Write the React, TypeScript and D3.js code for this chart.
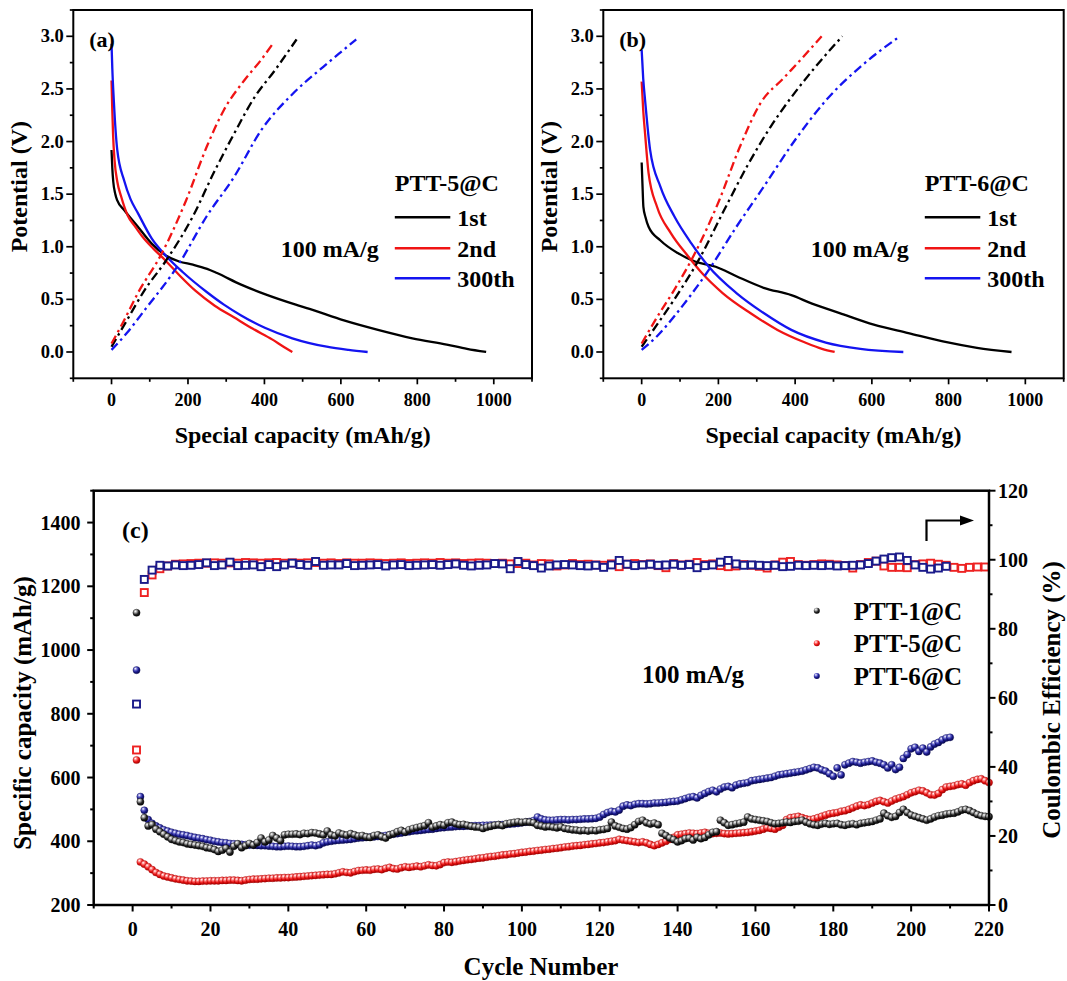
import React from "react";
import * as d3 from "d3";

const FONT = "'Liberation Serif', 'Times New Roman', Times, serif";
type Pt = [number, number];

// ---------- Panel (a): PTT-5@C, capacity (mAh/g) vs potential (V) ----------
const a1stDischarge: Pt[] = [[0,1.92],[2,1.75],[4.5,1.62],[10,1.5],[15,1.44],[33,1.35],[69,1.19],[105,1.03],[141,0.92],[177,0.86],[213,0.83],[250,0.79],[276,0.75],[339,0.64],[401,0.55],[482,0.45],[518,0.41],[608,0.3],[697,0.21],[787,0.13],[877,0.07],[930,0.03],[980,0.0]];
const a2ndDischarge: Pt[] = [[0,2.58],[2,2.3],[4,2.07],[8,1.82],[15,1.62],[25,1.48],[42,1.3],[60,1.2],[80,1.1],[110,0.98],[141,0.87],[180,0.72],[220,0.58],[270,0.44],[320,0.33],[370,0.22],[420,0.12],[450,0.05],[473,0.0]];
const a300thDischarge: Pt[] = [[0,2.93],[2,2.7],[6,2.39],[15,1.92],[33,1.63],[50,1.45],[69,1.32],[105,1.08],[141,0.92],[186,0.76],[249,0.57],[294,0.45],[338,0.35],[401,0.23],[473,0.13],[563,0.05],[620,0.02],[670,0.0]];
const a1stCharge: Pt[] = [[0,0.05],[40,0.3],[87,0.59],[141,0.86],[213,1.29],[267,1.7],[320,2.07],[374,2.42],[428,2.68],[484,2.97]];
const a2ndCharge: Pt[] = [[0,0.08],[30,0.28],[69,0.56],[132,0.94],[195,1.44],[249,1.95],[294,2.3],[347,2.58],[390,2.77],[424,2.94]];
const a300thCharge: Pt[] = [[0,0.02],[40,0.18],[87,0.4],[177,0.84],[249,1.29],[320,1.66],[392,2.11],[473,2.45],[554,2.71],[600,2.85],[640,2.97]];

// ---------- Panel (b): PTT-6@C ----------
const b1stDischarge: Pt[] = [[0,1.8],[2,1.6],[4.5,1.38],[10,1.28],[18,1.19],[49,1.06],[94,0.94],[139,0.86],[193,0.81],[247,0.72],[318,0.61],[390,0.54],[444,0.46],[516,0.37],[605,0.26],[695,0.18],[785,0.1],[874,0.04],[964,0.0]];
const b2ndDischarge: Pt[] = [[0,2.57],[4,2.3],[9,2.07],[18,1.7],[40,1.38],[76,1.13],[121,0.91],[157,0.75],[211,0.56],[283,0.37],[354,0.21],[426,0.09],[470,0.03],[503,0.0]];
const b300thDischarge: Pt[] = [[0,2.87],[4,2.6],[9,2.39],[22,1.92],[49,1.57],[85,1.29],[130,1.03],[175,0.81],[247,0.56],[318,0.37],[390,0.21],[480,0.09],[570,0.03],[682,0.0]];
const b1stCharge: Pt[] = [[0,0.05],[40,0.26],[85,0.5],[148,0.87],[211,1.32],[274,1.76],[336,2.14],[390,2.42],[453,2.71],[523,3.0]];
const b2ndCharge: Pt[] = [[0,0.08],[40,0.33],[85,0.59],[139,0.94],[202,1.44],[256,1.95],[309,2.36],[372,2.61],[420,2.8],[469,3.0]];
const b300thCharge: Pt[] = [[0,0.02],[40,0.15],[85,0.34],[175,0.78],[247,1.19],[318,1.57],[399,2.01],[480,2.39],[570,2.71],[673,3.0]];

const capTicks = [0, 200, 400, 600, 800, 1000];
const potTicks = [0, 0.5, 1.0, 1.5, 2.0, 2.5, 3.0];
const legendLabels = ["1st", "2nd", "300th"];

// ---------- Panel (c): cycling ----------
const ptt1Capacity = [
1117,524,474,448,452,438,430,422,414,406,
402,398,396,392,390,388,386,384,380,378,
374,368,372,378,366,384,392,380,386,393,
388,396,410,398,404,418,410,402,420,422,
422,423,421,425,424,427,426,423,420,432,
420,417,426,422,419,424,420,416,418,414,
412,418,420,414,410,420,424,430,434,429,
436,440,443,446,449,458,444,448,452,450,
458,460,455,452,453,450,447,445,444,440,
444,447,450,452,449,455,457,459,461,459,
461,460,458,450,448,445,446,444,442,445,
440,438,436,435,433,434,432,434,433,436,
437,440,460,448,444,440,438,443,452,462,
466,458,454,457,452,425,418,410,405,398,
402,408,410,404,412,408,412,420,428,430,
466,458,450,452,455,457,460,476,470,468,
466,464,462,458,455,456,458,460,459,462,
463,466,460,455,452,450,454,456,453,455,
456,452,450,453,455,452,456,458,460,462,
466,470,488,480,475,478,490,500,490,482,
478,474,470,466,470,476,480,482,485,487,
488,492,498,500,496,490,484,480,478,477];

const ptt5Capacity = [
655,335,328,320,311,302,296,291,288,285,
282,280,278,276,275,274,274,275,275,276,
276,276,277,277,278,278,277,276,278,280,
281,281,282,283,284,284,285,285,286,286,
287,288,289,290,291,292,293,294,295,296,
296,298,301,304,302,301,305,308,309,310,
309,312,313,311,315,318,314,313,317,320,
318,320,322,320,323,326,324,323,327,333,
335,334,336,338,340,342,343,345,347,348,
350,352,353,355,357,358,360,361,363,365,
366,368,369,371,372,374,375,377,378,380,
382,383,385,386,387,389,390,392,393,395,
396,398,400,402,406,404,402,400,398,396,
398,395,390,386,390,395,400,406,412,420,
422,424,426,425,424,426,428,425,424,425,
426,424,423,424,425,426,427,428,430,432,
434,438,442,440,438,444,450,468,474,476,
478,474,470,468,470,474,478,482,486,488,
490,494,496,500,505,510,514,512,515,520,
525,528,524,520,526,532,536,540,546,552,
556,560,558,552,546,545,550,562,570,572,
574,578,580,576,584,590,594,596,590,584];

const ptt6Capacity = [
937,540,497,468,456,448,442,436,432,428,
425,422,420,418,415,412,410,408,405,403,
400,398,396,395,393,392,390,390,389,388,
388,387,386,386,385,384,383,383,384,385,
384,383,383,384,386,388,386,389,395,398,
400,402,403,404,405,406,408,410,411,412,
413,414,415,416,418,420,422,424,426,428,
430,432,433,434,436,437,438,440,442,443,
444,445,446,447,447,448,448,449,449,450,
450,451,451,452,452,453,454,455,456,458,
460,462,465,476,470,467,466,466,467,468,
468,467,468,468,469,470,470,471,472,476,
484,490,494,492,498,510,514,512,516,518,
518,517,518,520,520,521,522,524,525,526,
530,534,538,540,536,544,550,556,560,555,
564,570,572,568,576,580,582,584,590,592,
594,596,598,600,604,608,610,612,614,616,
618,620,624,628,632,630,624,620,612,604,
630,608,640,645,650,648,645,648,650,652,
648,645,640,630,640,625,632,660,672,690,
695,682,692,680,696,705,710,718,724,726];

// Coulombic efficiency (%) at odd cycles 1, 3, 5, ...
const ptt5CE = [
44.9,90.5,95.6,97.4,98.2,98.7,98.8,98.9,99.0,99.0,
99.1,99.0,99.1,99.0,99.2,99.1,99.0,99.1,99.2,99.0,
99.1,99.0,99.1,99.2,99.0,99.1,98.9,99.1,99.0,99.0,
99.1,99.0,98.9,99.0,99.1,98.9,99.0,99.1,99.0,99.2,
99.0,99.1,98.9,99.0,99.1,99.0,98.9,99.0,98.8,98.9,
99.0,98.5,98.9,98.8,98.2,98.5,98.9,98.6,98.7,98.5,
98.4,98.8,98.0,98.7,98.9,98.6,98.8,98.3,97.7,98.9,
98.5,98.7,99.2,98.6,98.8,98.3,98.0,98.2,98.6,98.4,
98.1,97.6,98.5,99.3,99.5,98.6,98.4,98.6,98.8,98.7,
98.5,98.3,97.6,98.6,99.2,99.6,98.2,97.8,97.8,97.7,
98.6,98.8,99.0,98.7,98.4,97.8,97.5,97.8,97.9,97.9];
const ptt6CE = [
58.2,94.3,97.0,98.4,98.2,98.5,98.3,98.4,98.6,99.1,
98.3,98.5,99.3,98.3,98.4,98.5,98.0,98.6,98.0,98.5,
99.0,98.6,98.4,99.5,98.4,98.5,98.5,98.9,98.3,98.4,
98.5,98.6,98.2,98.5,98.6,98.3,98.4,98.5,98.6,98.4,
98.6,98.8,98.4,98.2,98.4,98.5,98.9,98.8,97.4,99.5,
98.6,98.3,97.6,98.2,98.5,98.6,98.5,98.3,98.2,98.4,
97.8,98.5,99.8,98.7,98.3,98.5,98.7,98.4,98.5,98.7,
98.4,98.6,97.7,98.3,98.5,99.3,99.8,98.8,98.4,98.5,
98.4,98.3,98.4,98.0,98.1,98.4,98.3,98.4,98.3,98.4,
98.2,98.3,98.4,98.5,98.9,99.6,100.2,100.6,100.8,99.8,
98.5,97.8,97.3,97.6,98.1];

const cycleTicks = [0, 20, 40, 60, 80, 100, 120, 140, 160, 180, 200, 220];
const capacityTicks = [200, 400, 600, 800, 1000, 1200, 1400];
const ceTicks = [0, 20, 40, 60, 80, 100, 120];
const cycleSeries = ["PTT-1@C", "PTT-5@C", "PTT-6@C"];

const RED = "#f01414";
const BLUE = "#1414f0";

interface Curve { data: Pt[]; color: string; dash?: string }

function VoltagePanel({ x0, x1, label, sample, curves }: { x0: number; x1: number; label: string; sample: string; curves: Curve[] }) {
  const top = 10, bottom = 378.3;
  const x = d3.scaleLinear().domain([-100, 1100]).range([x0, x1]);
  const y = d3.scaleLinear().domain([-0.25, 3.25]).range([bottom, top]);
  const line = d3.line<Pt>().x(d => x(d[0])).y(d => y(d[1])).curve(d3.curveMonotoneX);
  const xMinor = d3.range(-100, 1101, 100);
  const yMinor = d3.range(-0.25, 3.26, 0.25);
  const legendColors = ["#000", RED, BLUE];
  const rowY = [217.3, 248.3, 278.3];
  return (
    <g fontFamily={FONT} fontWeight="bold">
      {curves.map((c, i) => (
        <path key={i} d={line(c.data) || ""} fill="none" stroke={c.color} strokeWidth={2.3} strokeDasharray={c.dash} strokeLinejoin="round" />
      ))}
      <rect x={x0} y={top} width={x1 - x0} height={bottom - top} fill="none" stroke="#000" strokeWidth={2} />
      {xMinor.map(v => {
        const major = capTicks.includes(v);
        return <line key={"xt" + v} x1={x(v)} x2={x(v)} y1={bottom} y2={bottom + (major ? 6 : 3.5)} stroke="#000" strokeWidth={1.7} />;
      })}
      {yMinor.map(v => {
        const major = potTicks.some(t => Math.abs(t - v) < 1e-6);
        return <line key={"yt" + v} x1={x0} x2={x0 - (major ? 7 : 3.5)} y1={y(v)} y2={y(v)} stroke="#000" strokeWidth={1.7} />;
      })}
      {capTicks.map(v => (
        <text key={"xl" + v} x={x(v)} y={406} textAnchor="middle" fontSize={18}>{v}</text>
      ))}
      {potTicks.map(v => (
        <text key={"yl" + v} x={x0 - 9.5} y={y(v) + 6} textAnchor="end" fontSize={18.5}>{v.toFixed(1)}</text>
      ))}
      <text x={(x0 + x1) / 2} y={443} textAnchor="middle" fontSize={24}>Special capacity (mAh/g)</text>
      <text transform={`translate(${x0 - 46},186.7) rotate(-90)`} textAnchor="middle" fontSize={24}>Potential (V)</text>
      <text x={x0 + 16} y={47} fontSize={22}>{label}</text>
      <text x={x0 + 321.5} y={191} fontSize={24}>{sample}</text>
      <text x={x0 + 207.5} y={256.5} fontSize={24}>100 mA/g</text>
      {legendLabels.map((t, i) => (
        <g key={t}>
          <line x1={x0 + 321.5} x2={x0 + 377} y1={rowY[i]} y2={rowY[i]} stroke={legendColors[i]} strokeWidth={2.5} />
          <text x={x0 + 384} y={rowY[i] + 8.2} fontSize={24}>{t}</text>
        </g>
      ))}
    </g>
  );
}

function CyclePanel() {
  const L = 93.7, R = 989, T = 490.7, B = 905;
  const x = d3.scaleLinear().domain([-10, 220]).range([L, R]);
  const yL = d3.scaleLinear().domain([200, 1500]).range([B, T]);
  const yR = d3.scaleLinear().domain([0, 120]).range([B, T]);
  const r = 3.6;
  const ballIds = ["ballK", "ballR", "ballB"];
  const capSeries = [ptt6Capacity, ptt5Capacity, ptt1Capacity];
  const capIds = ["ballB", "ballR", "ballK"];
  const capStroke = ["#0a0a50", "#a00000", "#000"];
  const ceSeries = [ptt5CE, ptt6CE];
  const ceColors = ["#ee2222", "#1a1a8a"];
  const xTicksAll = d3.range(-10, 221, 10);
  const yLAll = d3.range(200, 1501, 100);
  const yRAll = d3.range(0, 121, 10);
  const legY = [610.7, 643.3, 676];
  return (
    <g fontFamily={FONT} fontWeight="bold">
      <defs>
        <radialGradient id="ballK" cx="0.35" cy="0.3" r="0.75">
          <stop offset="0" stopColor="#ffffff" />
          <stop offset="0.3" stopColor="#9a9a9a" />
          <stop offset="0.6" stopColor="#262626" />
          <stop offset="1" stopColor="#000000" />
        </radialGradient>
        <radialGradient id="ballR" cx="0.35" cy="0.3" r="0.75">
          <stop offset="0" stopColor="#ffffff" />
          <stop offset="0.3" stopColor="#ff7070" />
          <stop offset="0.6" stopColor="#e81414" />
          <stop offset="1" stopColor="#a00000" />
        </radialGradient>
        <radialGradient id="ballB" cx="0.35" cy="0.3" r="0.75">
          <stop offset="0" stopColor="#ffffff" />
          <stop offset="0.3" stopColor="#6a6ad0" />
          <stop offset="0.6" stopColor="#1c1c90" />
          <stop offset="1" stopColor="#06064a" />
        </radialGradient>
      </defs>
      {ceSeries.map((s, k) => (
        <g key={"ce" + k}>
          {s.map((v, i) => (
            <rect key={i} x={x(2 * i + 1) - 3.5} y={yR(v) - 3.5} width={7} height={7} fill="#fff" stroke={ceColors[k]} strokeWidth={1.9} />
          ))}
        </g>
      ))}
      {capSeries.map((s, k) => (
        <g key={"cap" + k}>
          {s.map((v, i) => (
            <circle key={i} cx={x(i + 1)} cy={yL(v)} r={r} fill={`url(#${capIds[k]})`} stroke={capStroke[k]} strokeWidth={0.4} />
          ))}
        </g>
      ))}
      <rect x={L} y={T} width={R - L} height={B - T} fill="none" stroke="#000" strokeWidth={2.5} />
      {xTicksAll.map(v => {
        const major = cycleTicks.includes(v);
        return <line key={"cx" + v} x1={x(v)} x2={x(v)} y1={B} y2={B + (major ? 6.5 : 3.5)} stroke="#000" strokeWidth={2} />;
      })}
      {yLAll.map(v => {
        const major = capacityTicks.includes(v);
        return <line key={"cl" + v} x1={L} x2={L - (major ? 6.5 : 3.5)} y1={yL(v)} y2={yL(v)} stroke="#000" strokeWidth={2} />;
      })}
      {yRAll.map(v => {
        const major = ceTicks.includes(v);
        return <line key={"cr" + v} x1={R} x2={R + (major ? 6.5 : 3.5)} y1={yR(v)} y2={yR(v)} stroke="#000" strokeWidth={2} />;
      })}
      {cycleTicks.map(v => (
        <text key={"cxl" + v} x={x(v)} y={935.5} textAnchor="middle" fontSize={20}>{v}</text>
      ))}
      {capacityTicks.map(v => (
        <text key={"cll" + v} x={80.5} y={yL(v) + 7} textAnchor="end" fontSize={20}>{v}</text>
      ))}
      {ceTicks.map(v => (
        <text key={"crl" + v} x={R + 9} y={yR(v) + 7} textAnchor="start" fontSize={20}>{v}</text>
      ))}
      <text x={541} y={975} textAnchor="middle" fontSize={25}>Cycle Number</text>
      <text transform={`translate(31,713) rotate(-90)`} textAnchor="middle" fontSize={25}>Specific capacity (mAh/g)</text>
      <text transform={`translate(1060,700) rotate(-90)`} textAnchor="middle" fontSize={25}>Coulombic Efficiency (%)</text>
      <text x={122} y={538} fontSize={24}>(c)</text>
      <text x={642} y={682.5} fontSize={25}>100 mA/g</text>
      {cycleSeries.map((t, i) => (
        <g key={t}>
          <circle cx={816.8} cy={legY[i]} r={3} fill={`url(#${ballIds[i]})`} />
          <text x={853.7} y={legY[i] + 8.8} fontSize={25}>{t}</text>
        </g>
      ))}
      <path d="M926.5,541 V520.5 H962" fill="none" stroke="#000" strokeWidth={2.2} />
      <path d="M960,515.5 L974,520.5 L960,525.5 Z" fill="#000" />
    </g>
  );
}

export default function App() {
  const dashDot = "9,4,2.5,4";
  const aCurves: Curve[] = [
    { data: a1stDischarge, color: "#000" },
    { data: a2ndDischarge, color: RED },
    { data: a300thDischarge, color: BLUE },
    { data: a1stCharge, color: "#000", dash: dashDot },
    { data: a2ndCharge, color: RED, dash: dashDot },
    { data: a300thCharge, color: BLUE, dash: dashDot },
  ];
  const bCurves: Curve[] = [
    { data: b1stDischarge, color: "#000" },
    { data: b2ndDischarge, color: RED },
    { data: b300thDischarge, color: BLUE },
    { data: b1stCharge, color: "#000", dash: dashDot },
    { data: b2ndCharge, color: RED, dash: dashDot },
    { data: b300thCharge, color: BLUE, dash: dashDot },
  ];
  return (
    <svg width={1067} height={981} style={{ position: "absolute", left: 0, top: 0, background: "#fff" }}>
      <VoltagePanel x0={73.3} x1={532} label="(a)" sample="PTT-5@C" curves={aCurves} />
      <VoltagePanel x0={603.3} x1={1063.7} label="(b)" sample="PTT-6@C" curves={bCurves} />
      <CyclePanel />
    </svg>
  );
}
